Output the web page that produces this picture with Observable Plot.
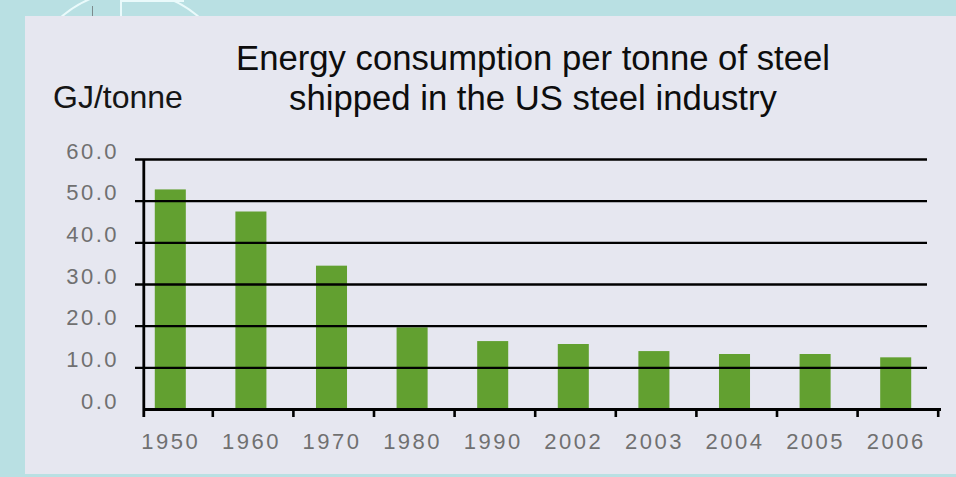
<!DOCTYPE html>
<html>
<head>
<meta charset="utf-8">
<script src="https://cdn.jsdelivr.net/npm/d3@7"></script>
<script src="https://cdn.jsdelivr.net/npm/@observablehq/plot@0.6"></script>
<style>
  html, body { margin: 0; padding: 0; }
  body { width: 956px; height: 477px; background: #b9e0e3; position: relative; overflow: hidden;
         font-family: "Liberation Sans", Arial, sans-serif; }
  .deco { position: absolute; }
  #arc { left: 25px; top: -10px; width: 210px; height: 210px; border: 2px solid #eafafb; border-radius: 50%; box-sizing: border-box; }
  #vline { left: 120px; top: 0; width: 2px; height: 16px; background: #eafafb; }
  #hline { left: 120px; top: 0; width: 64px; height: 2px; background: #eafafb; }
  #gline { left: 92px; top: 6px; width: 1px; height: 10px; background: #7d8b8d; }
  #panel { position: absolute; left: 25px; top: 16px; width: 931px; height: 458px; background: #e6e7f0; }
  #title { position: absolute; left: 213px; width: 640px; top: 38px; text-align: center; white-space: nowrap;
           font-size: 34.7px; line-height: 40px; color: #0d0d0d; }
  #unit { position: absolute; left: 53px; top: 81px; font-size: 32px; line-height: 32px; color: #151515; white-space: nowrap; }
  #chart { position: absolute; left: 0; top: 130px; }
</style>
</head>
<body>
<div class="deco" id="arc"></div>
<div class="deco" id="vline"></div>
<div class="deco" id="hline"></div>
<div class="deco" id="gline"></div>
<div id="panel"></div>
<div id="title">Energy consumption per tonne of steel<br>shipped in the US steel industry</div>
<div id="unit">GJ/tonne</div>
<div id="chart"></div>
<script>
const years = ["1950", "1960", "1970", "1980", "1990", "2002", "2003", "2004", "2005", "2006"];
const energy = [52.7, 47.4, 34.4, 19.6, 16.3, 15.6, 13.9, 13.2, 13.2, 12.4];
const yTicks = [0, 10, 20, 30, 40, 50, 60];
const gridValues = [10, 20, 30, 40, 50, 60];

const data = years.map((year, i) => ({year, value: energy[i]}));

const chart = Plot.plot({
  width: 956,
  height: 330,
  marginTop: 29,
  marginBottom: 51,
  marginLeft: 130,
  marginRight: 20,
  style: {
    background: "transparent",
    fontFamily: "'Liberation Sans', Arial, sans-serif",
    fontSize: "22px",
    letterSpacing: "2.5px",
    color: "#707070",
    overflow: "visible"
  },
  x: {type: "band", domain: years, paddingInner: 0.615, paddingOuter: 0.3075, round: false, label: null},
  y: {domain: [0, 60], label: null},
  marks: [
    Plot.barY(data, {x: "year", y: "value", fill: "#62a030"}),
    Plot.ruleY(gridValues, {stroke: "#000", strokeWidth: 2.4, insetLeft: 5, insetRight: 9}),
    Plot.ruleY([0], {stroke: "#000", strokeWidth: 2.8, insetLeft: 13, insetRight: -5}),
    Plot.ruleX([years[0]], {x: d => d, y1: 0, y2: 60, dx: -27, stroke: "#000", strokeWidth: 2.8}),
    Plot.ruleX([years[0]], {x: d => d, y1: 0, y2: 0, dx: -27, insetBottom: -8, stroke: "#000", strokeWidth: 2.8}),
    Plot.ruleX(years, {x: d => d, y1: 0, y2: 0, dx: 42, insetBottom: -8, stroke: "#000", strokeWidth: 2.6}),
    Plot.axisY(yTicks, {tickFormat: d => d.toFixed(1), tickSize: 0, tickPadding: 11.5, dy: -8, label: null}),
    Plot.axisX(years, {tickSize: 0, tickPadding: 24, label: null})
  ]
});
document.getElementById("chart").appendChild(chart);
</script>
</body>
</html>
